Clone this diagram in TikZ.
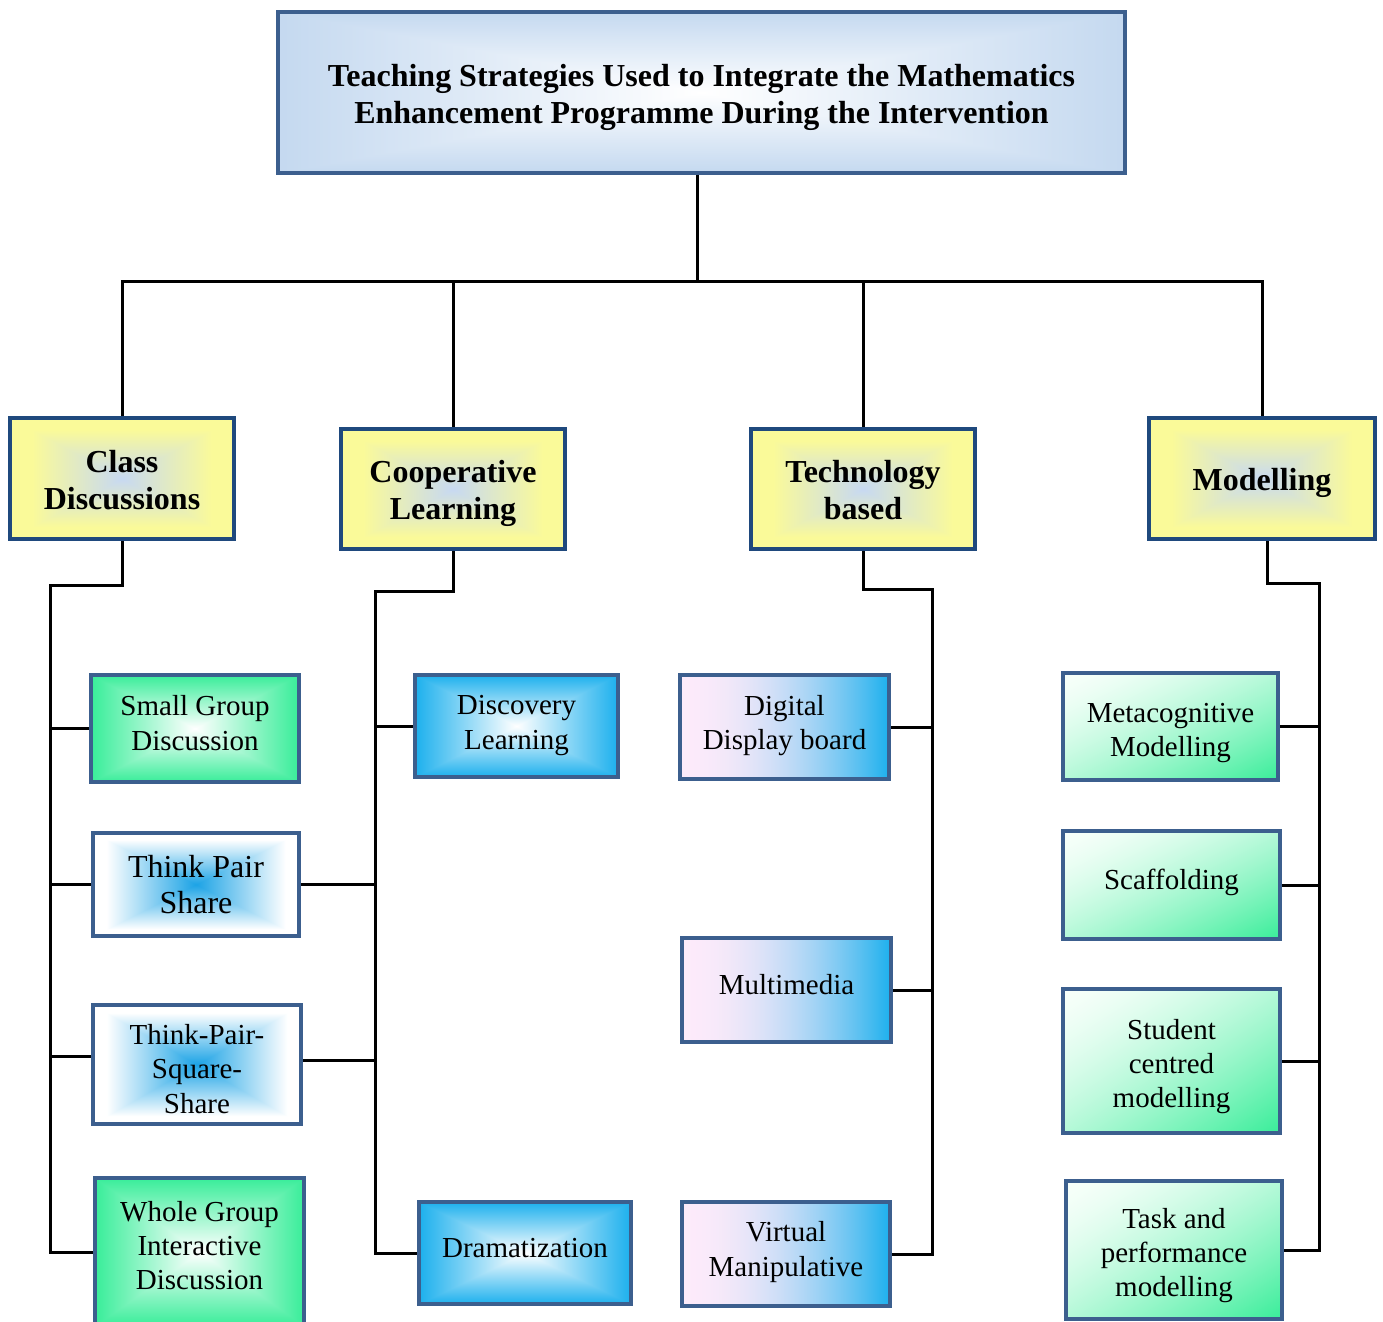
\documentclass[tikz,border=0pt]{standalone}
\usepackage{fontspec}
\setmainfont{Liberation Serif}
\usetikzlibrary{calc}

\definecolor{boxblue}{RGB}{60,95,142}
\definecolor{catblue}{RGB}{31,73,125}

% functional shading: name, inner rgb, outer rgb, code turning "x y" into t in [0,1]
% (the path's bounding box is the inner square -25bp..25bp of the shading)
\newcommand\funshade[8]{%
 \pgfdeclarefunctionalshading{#1}{\pgfpoint{-50bp}{-50bp}}{\pgfpoint{50bp}{50bp}}{}{#8
  dup 1 gt {pop 1} if dup 0 lt {pop 0} if
  dup #5 #2 sub mul #2 add exch
  dup #6 #3 sub mul #3 add exch
  #7 #4 sub mul #4 add}}
\def\rectT{abs exch abs 2 copy lt {exch} if pop 25 div}

\funshade{titlesh}{1}{1}{1}{0.77}{0.85}{0.94}{\rectT}
\funshade{catsh}{0.78}{0.85}{0.95}{0.98}{0.98}{0.6}{\rectT\space 1.25 mul}
\funshade{greensh}{1}{1}{1}{0.22}{0.93}{0.6}{\rectT}
\funshade{bluesh}{1}{1}{1}{0.11}{0.69}{0.93}{\rectT}
\funshade{thinksh}{0.11}{0.64}{0.9}{1}{1}{1}{\rectT\space 1.15 mul}
\funshade{techsh}{0.99}{0.92}{0.98}{0.11}{0.69}{0.93}{pop 25 add 50 div dup 0 lt {pop 0} if dup mul}
\funshade{modsh}{0.97}{1}{0.98}{0.22}{0.93}{0.6}{sub 50 add 100 div dup 0 lt {pop 0} if dup sqrt mul}

\tikzset{
 conn/.style={line width=1.5pt, black},
 basebox/.style={inner sep=0pt, align=center, line width=2pt},
 topbox/.style={basebox, draw=boxblue, shading=titlesh, font=\fontsize{16}{18.5}\selectfont\bfseries},
 catbox/.style={basebox, draw=catblue, shading=catsh, font=\fontsize{16}{18.5}\selectfont\bfseries},
 subbox/.style={basebox, draw=boxblue, font=\fontsize{14.5}{17.2}\selectfont},
 greenbox/.style={subbox, shading=greensh},
 bluebox/.style={subbox, shading=bluesh},
 thinkbox/.style={subbox, shading=thinksh},
 techbox/.style={subbox, shading=techsh},
 modbox/.style={subbox, shading=modsh},
 lift/.style={text depth=#1},
}
% box from pixel corners (x1,y1)-(x2,y2)
\newcommand\pbox[7]{%
 \node[#1, minimum width={(#5-#3)*0.5pt}, minimum height={(#6-#4)*0.5pt}]
   (#2) at ({(#3+#5)/2},{(#4+#6)/2}) {#7};}
% invisible strut that lowers the text block
\newcommand\drop[1]{\rule{0pt}{#1}}

\begin{document}
\begin{tikzpicture}[x=0.5pt, y=-0.5pt]
\useasboundingbox (0,0) rectangle (1383,1322);

% title
\pbox{topbox,lift=0pt}{title}{278}{12}{1125}{173}{\drop{13pt}Teaching Strategies Used to Integrate the Mathematics\\Enhancement Programme During the Intervention}

% categories
\pbox{catbox,lift=0pt}{class}{10}{418}{234}{539}{\drop{12pt}Class\\Discussions}
\pbox{catbox,lift=0pt}{coop}{341}{429}{565}{549}{\drop{12pt}Cooperative\\Learning}
\pbox{catbox}{tech}{751}{429}{975}{549}{\drop{12pt}Technology\\based}
\pbox{catbox,lift=0pt}{model}{1149}{418}{1375}{539}{\drop{12pt}Modelling}

% column 1
\pbox{greenbox,lift=5.5pt}{sgd}{91}{675}{299}{782}{Small Group\\Discussion}
\pbox{thinkbox,font=\fontsize{16}{18}\selectfont}{tps}{93}{833}{299}{936}{Think Pair\\Share}
\pbox{thinkbox}{tpsq}{93}{1005}{301}{1124}{\drop{14.4pt}Think-Pair-\\Square-\\Share}
\pbox{greenbox,lift=6.5pt}{wgd}{95}{1178}{304}{1326}{Whole Group\\Interactive\\Discussion}

% column 2
\pbox{bluebox,lift=3.5pt}{disc}{415}{675}{618}{777}{Discovery\\Learning}
\pbox{bluebox,lift=5pt}{dram}{419}{1202}{631}{1304}{Dramatization}

% column 3
\pbox{techbox,lift=4.5pt}{dd}{680}{675}{889}{779}{Digital\\Display board}
\pbox{techbox,lift=6pt}{mm}{682}{938}{891}{1042}{Multimedia}
\pbox{techbox,lift=5.2pt}{vm}{682}{1202}{890}{1306}{Virtual\\Manipulative}

% column 4
\pbox{modbox,lift=0pt}{meta}{1063}{673}{1278}{780}{\drop{13pt}Metacognitive\\Modelling}
\pbox{modbox,lift=6.2pt}{scaf}{1063}{831}{1280}{939}{Scaffolding}
\pbox{modbox,lift=0pt}{stud}{1063}{989}{1280}{1133}{\drop{12.4pt}Student\\centred\\modelling}
\pbox{modbox,lift=0pt}{task}{1066}{1181}{1282}{1319}{\drop{12.4pt}Task and\\performance\\modelling}

% connectors: title to categories
\coordinate (bus) at (0,281);
\coordinate (tfoot) at ($(title.south)+(-4,0)$);
\coordinate (mhead) at ($(model.south)+(5,0)$);
\draw[conn] (tfoot) -- (tfoot |- bus);
\draw[conn] (class.north) -- (class.north |- bus) -- (model.north |- bus) -- (model.north);
\draw[conn] (coop.north |- bus) -- (coop.north);
\draw[conn] (tech.north |- bus) -- (tech.north);

% branch 1
\coordinate (c1t) at (50,585);
\draw[conn] (class.south) |- (c1t) -- (c1t |- wgd.west) -- (wgd.west);
\draw[conn] (c1t |- sgd.west) -- (sgd.west);
\draw[conn] (c1t |- tps.west) -- (tps.west);
\draw[conn] ($(c1t |- tpsq.west)+(0,-8)$) -- ($(tpsq.west)+(0,-8)$);

% branch 2
\coordinate (c2t) at (375,591);
\draw[conn] (coop.south) |- (c2t) -- (c2t |- dram.west) -- (dram.west);
\draw[conn] (c2t |- disc.west) -- (disc.west);
\draw[conn] (tps.east) -- (tps.east -| c2t);
\draw[conn] ($(tpsq.east)+(0,-4)$) -- ($(tpsq.east -| c2t)+(0,-4)$);

% branch 3
\coordinate (c3t) at (932,589);
\draw[conn] (tech.south) |- (c3t) -- (c3t |- vm.east) -- (vm.east);
\draw[conn] (dd.east) -- (dd.east -| c3t);
\draw[conn] (mm.east) -- (mm.east -| c3t);

% branch 4
\coordinate (c4t) at (1319,583);
\draw[conn] (mhead) |- (c4t) -- (c4t |- task.east) -- (task.east);
\draw[conn] (meta.east) -- (meta.east -| c4t);
\draw[conn] (scaf.east) -- (scaf.east -| c4t);
\draw[conn] (stud.east) -- (stud.east -| c4t);
\end{tikzpicture}
\end{document}
